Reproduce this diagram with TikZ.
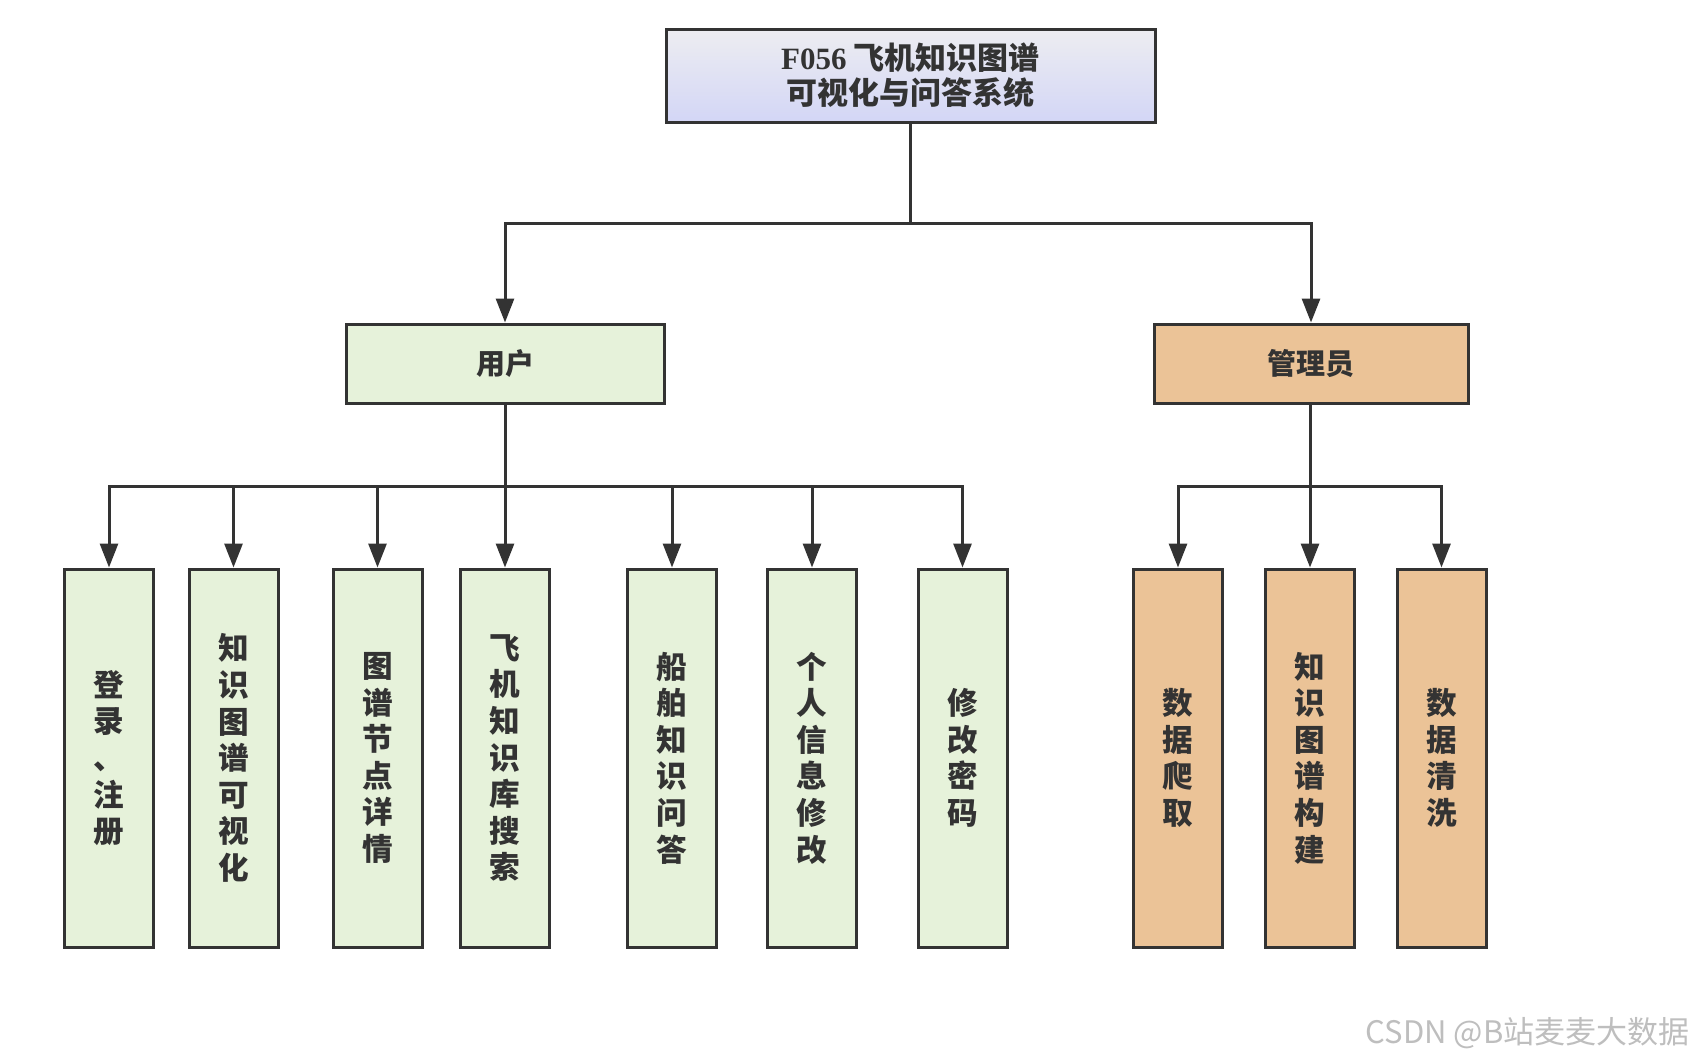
\documentclass[tikz,border=0pt]{standalone}
\usepackage{fontspec}
\newfontfamily\cjk{Noto Sans CJK SC}
\newfontfamily\lserif{Liberation Serif}
\usetikzlibrary{arrows.meta}
\definecolor{linec}{HTML}{333333}
\definecolor{txtc}{HTML}{333333}
\definecolor{topA}{HTML}{EDEDF1}
\definecolor{topB}{HTML}{D3D6F6}
\definecolor{greenf}{HTML}{E6F2DA}
\definecolor{orangef}{HTML}{EBC397}
\definecolor{wmc}{HTML}{BEBEBE}
\tikzset{
  boxbase/.style={draw=linec, line width=1.5pt, inner sep=0pt, align=center, text=txtc,
    font=\cjk\bfseries\fontsize{14.5}{18.3}\selectfont},
  topbox/.style={boxbase, top color=topA, bottom color=topB, minimum width=244.5pt, minimum height=46.5pt,
    font=\cjk\bfseries\fontsize{15.5}{17.5}\selectfont},
  userbox/.style={boxbase, fill=greenf, minimum width=159pt, minimum height=39.5pt},
  adminbox/.style={boxbase, fill=orangef, minimum width=157pt, minimum height=39.5pt},
  leafbase/.style={boxbase, minimum width=44.5pt, minimum height=189pt,
    font=\cjk\bfseries\fontsize{15.3}{18.3}\selectfont},
  leafg/.style={leafbase, fill=greenf},
  leafo/.style={leafbase, fill=orangef},
  conn/.style={draw=linec, line width=1.5pt},
  arr/.style={conn, -{Triangle[length=12pt,width=9pt]}},
  wmark/.style={text=wmc, font=\cjk\fontsize{15.5}{18}\selectfont, inner sep=0pt}
}
\begin{document}
\begin{tikzpicture}[x=0.5pt,y=-0.5pt]
\useasboundingbox[fill=white] (0,0) rectangle (1696,1060);

% top
\node[topbox] (top) at (910.5,75.5) {{\lserif\bfseries F056} 飞机知识图谱\\可视化与问答系统};
\node[userbox] (user) at (505,363.5) {用户};
\node[adminbox] (admin) at (1311,363.5) {管理员};

% user leaves
\node[leafg] (l1) at (109,758) {登\\录\\、\\注\\册};
\node[leafg] (l2) at (233.5,758) {知\\识\\图\\谱\\可\\视\\化};
\node[leafg] (l3) at (377.5,758) {图\\谱\\节\\点\\详\\情};
\node[leafg] (l4) at (505,758) {飞\\机\\知\\识\\库\\搜\\索};
\node[leafg] (l5) at (672,758) {船\\舶\\知\\识\\问\\答};
\node[leafg] (l6) at (812,758) {个\\人\\信\\息\\修\\改};
\node[leafg] (l7) at (962.5,758) {修\\改\\密\\码};

% admin leaves
\node[leafo] (a1) at (1178,758) {数\\据\\爬\\取};
\node[leafo] (a2) at (1310,758) {知\\识\\图\\谱\\构\\建};
\node[leafo] (a3) at (1441.5,758) {数\\据\\清\\洗};

% connectors top
\coordinate (j1) at (910.5,223);
\draw[conn] (top.south) -- (j1);
\draw[arr] (j1) -| (user.north);
\draw[arr] (j1) -| (admin.north);

% user branch
\coordinate (j2) at (505,486);
\draw[arr] (user.south) -- (l4.north);
\draw[arr] (j2) -| (l1.north);
\draw[arr] (j2) -| (l2.north);
\draw[arr] (j2) -| (l3.north);
\draw[arr] (j2) -| (l5.north);
\draw[arr] (j2) -| (l6.north);
\draw[arr] (j2) -| (l7.north);

% admin branch
\coordinate (j3) at (1310,486);
\draw[arr] (admin.south -| a2.north) -- (a2.north);
\draw[arr] (j3) -| (a1.north);
\draw[arr] (j3) -| (a3.north);

% watermark
\node[wmark, anchor=east] (wm) at (1690,1033) {CSDN @B站麦麦大数据};
\end{tikzpicture}
\end{document}
